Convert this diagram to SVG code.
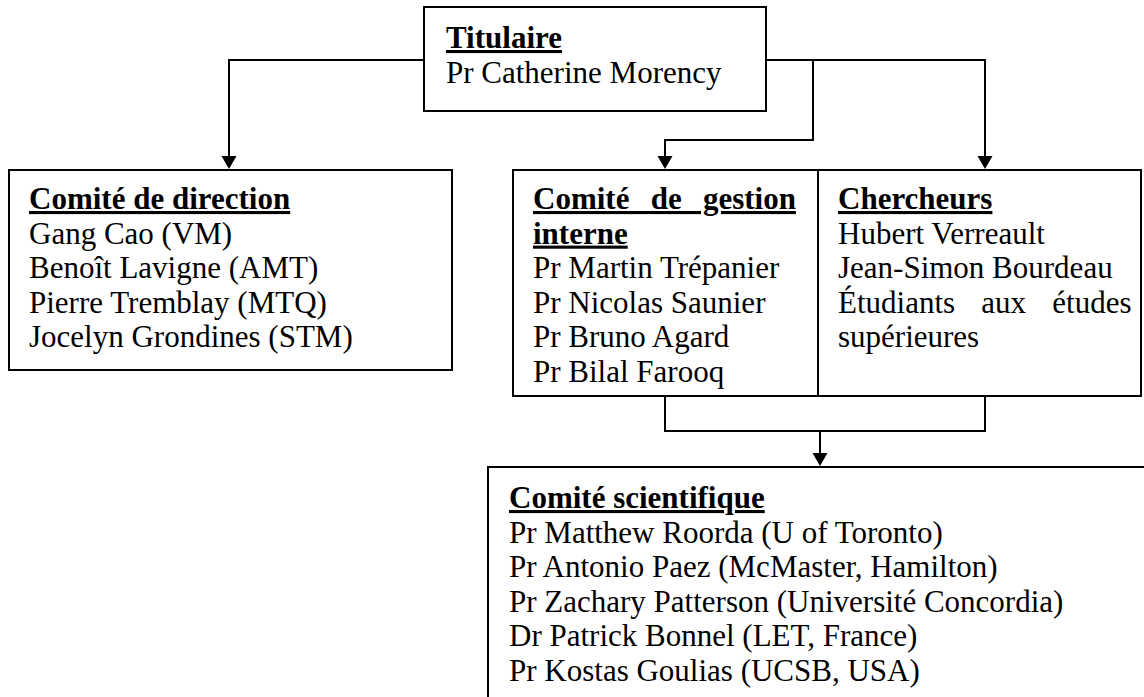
<svg xmlns="http://www.w3.org/2000/svg" width="1144" height="697" viewBox="0 0 1144 697">
  <style>
    .box { fill: #ffffff; stroke: #000000; stroke-width: 2; }
    .t { font-family: "Liberation Serif", "Times New Roman", serif; font-size: 31px; fill: #000000; }
    .h { font-weight: bold; text-decoration: underline; }
    .c { fill: none; stroke: #000000; stroke-width: 2; }
  </style>
  <defs>
    <marker id="arr" viewBox="0 0 15 13" refX="7.5" refY="13" markerWidth="15" markerHeight="13" markerUnits="userSpaceOnUse" orient="auto-start-reverse">
      <path d="M0,0 L15,0 L7.5,13 Z" fill="#000000"/>
    </marker>
  </defs>
  <rect width="1144" height="697" fill="#ffffff"/>

  <g id="connectors">
    <path class="c" d="M424,60 H229 V157" />
    <path d="M221.5,156 L236.5,156 L229,169 Z" fill="#000"/>
    <path class="c" d="M766,60 H985 V157" />
    <path d="M977.5,156 L992.5,156 L985,169 Z" fill="#000"/>
    <path class="c" d="M813,60 V140 H665 V157" />
    <path d="M657.5,156 L672.5,156 L665,169 Z" fill="#000"/>
    <path class="c" d="M665,396 V431 H985 V396" />
    <path class="c" d="M820,431 V454" />
    <path d="M812.5,453 L827.5,453 L820,466 Z" fill="#000"/>
  </g>

  <g id="titulaire">
    <rect class="box" x="424" y="7" width="342" height="104"/>
    <text class="t h" x="446" y="48">Titulaire</text>
    <text class="t" x="446" y="83">Pr Catherine Morency</text>
  </g>

  <g id="comite-direction">
    <rect class="box" x="9" y="170" width="443" height="200"/>
    <text class="t h" x="29" y="209">Comité de direction</text>
    <text class="t" x="29" y="243.6">Gang Cao (VM)</text>
    <text class="t" x="29" y="278.2">Benoît Lavigne (AMT)</text>
    <text class="t" x="29" y="312.8">Pierre Tremblay (MTQ)</text>
    <text class="t" x="29" y="347.4">Jocelyn Grondines (STM)</text>
  </g>

  <g id="comite-gestion">
    <rect class="box" x="513" y="170" width="305" height="226"/>
    <text class="t h" x="533" y="209" word-spacing="13.5">Comité de gestion</text>
    <text class="t h" x="533" y="243.6">interne</text>
    <text class="t" x="533" y="278.2">Pr Martin Trépanier</text>
    <text class="t" x="533" y="312.8">Pr Nicolas Saunier</text>
    <text class="t" x="533" y="347.4">Pr Bruno Agard</text>
    <text class="t" x="533" y="382">Pr Bilal Farooq</text>
  </g>

  <g id="chercheurs">
    <rect class="box" x="818" y="170" width="323" height="226"/>
    <text class="t h" x="838" y="209">Chercheurs</text>
    <text class="t" x="838" y="243.6">Hubert Verreault</text>
    <text class="t" x="838" y="278.2">Jean-Simon Bourdeau</text>
    <text class="t" x="838" y="312.8" word-spacing="18.5">Étudiants aux études</text>
    <text class="t" x="838" y="347.4">supérieures</text>
  </g>

  <g id="comite-scientifique">
    <rect class="box" x="488" y="467" width="700" height="300"/>
    <text class="t h" x="509" y="508">Comité scientifique</text>
    <text class="t" x="509" y="542.6">Pr Matthew Roorda (U of Toronto)</text>
    <text class="t" x="509" y="577.2">Pr Antonio Paez (McMaster, Hamilton)</text>
    <text class="t" x="509" y="611.8">Pr Zachary Patterson (Université Concordia)</text>
    <text class="t" x="509" y="646.4">Dr Patrick Bonnel (LET, France)</text>
    <text class="t" x="509" y="681">Pr Kostas Goulias (UCSB, USA)</text>
  </g>
</svg>
